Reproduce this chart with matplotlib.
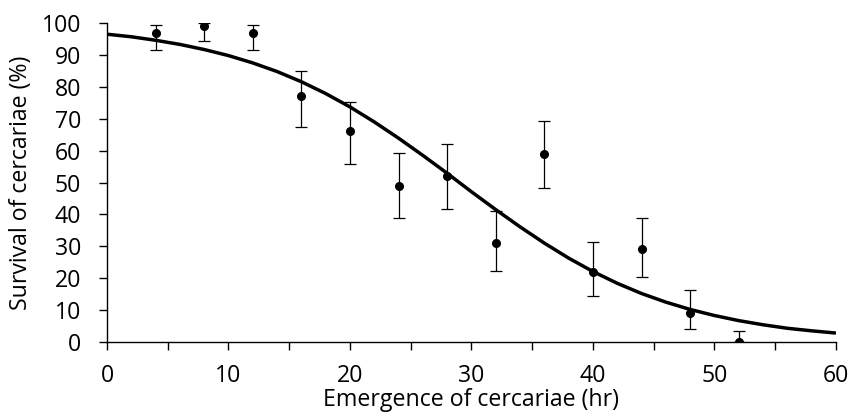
import matplotlib
matplotlib.use("Agg")
import matplotlib.pyplot as plt
from matplotlib.ticker import MultipleLocator

plt.rcParams['font.family'] = ['Open Sans', 'DejaVu Sans']

# Observed data
hours = [4, 8, 12, 16, 20, 24, 28, 32, 36, 40, 44, 48, 52]
survival = [97, 99, 97, 77, 66, 49, 52, 31, 59, 22, 29, 9, 0]
err_upper = [2.4, 1.0, 2.4, 7.9, 9.1, 10.2, 10.1, 10.1, 10.3, 9.2, 9.9, 7.2, 3.6]
err_lower = [5.6, 4.5, 5.6, 9.5, 10.1, 10.1, 10.3, 8.8, 10.8, 7.7, 8.6, 4.8, 0.0]

# Fitted curve
curve_x = [0, 2, 4, 6, 8, 10, 12, 14, 16, 18, 20, 22, 24, 26, 28, 30,
           32, 34, 36, 38, 40, 42, 44, 46, 48, 50, 52, 54, 56, 58, 60]
curve_y = [96.5, 95.7, 94.6, 93.3, 91.7, 89.8, 87.5, 84.8, 81.6, 77.9, 73.7,
           69.0, 63.9, 58.5, 52.9, 47.1, 41.5, 36.1, 31.0, 26.3, 22.1, 18.4,
           15.2, 12.5, 10.2, 8.3, 6.7, 5.4, 4.3, 3.5, 2.8]

fig = plt.figure(figsize=(8.53, 4.19), dpi=100)
ax = fig.add_axes([0.1254, 0.1838, 0.8546, 0.7612])

ax.plot(curve_x, curve_y, color='black', lw=2.5, solid_capstyle='butt', zorder=2)
ax.errorbar(hours, survival, yerr=[err_lower, err_upper], fmt='o', color='black',
            ms=5.5, ecolor='black', elinewidth=0.9, capsize=4.3, capthick=0.9,
            zorder=3)

ax.set_xlim(0, 60)
ax.set_ylim(0, 100)
ax.xaxis.set_major_locator(MultipleLocator(10))
ax.xaxis.set_minor_locator(MultipleLocator(5))
ax.yaxis.set_major_locator(MultipleLocator(10))

for s in ['top', 'right']:
    ax.spines[s].set_visible(False)
for s in ['left', 'bottom']:
    ax.spines[s].set_linewidth(1.0)

ax.tick_params(axis='x', which='both', direction='out', length=5.8, width=1.0,
               labelsize=16.7, pad=10)
ax.tick_params(axis='y', which='both', direction='out', length=5.8, width=1.0,
               labelsize=16.7, pad=13)

ax.set_xlabel('Emergence of cercariae (hr)', fontsize=16.7, labelpad=0)
ax.set_ylabel('Survival of cercariae (%)', fontsize=16.7, labelpad=6)

fig.savefig('out.png', dpi=100)
